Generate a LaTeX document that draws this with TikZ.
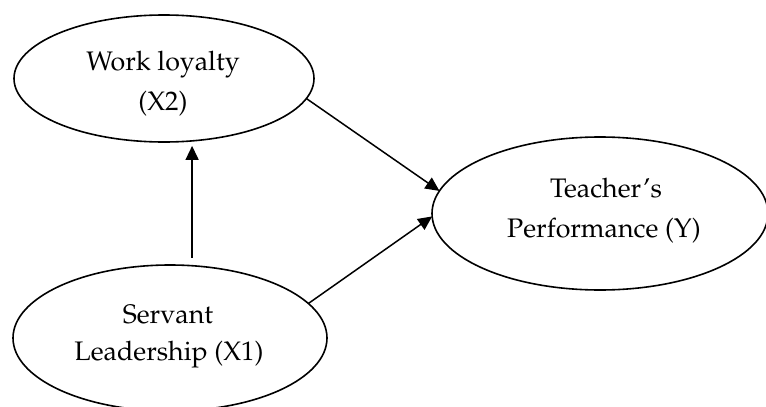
\documentclass[tikz,border=0pt]{standalone}
\usepackage[T1]{fontenc}
\usepackage{mathpazo}
\usetikzlibrary{shapes.geometric,arrows.meta}
\begin{document}
\begin{tikzpicture}[x=0.5pt,y=-0.5pt,
  oval/.style={ellipse,draw,line width=0.8pt,inner sep=0pt,outer sep=0pt},
  lbl/.style={anchor=base,inner sep=0pt,font=\fontsize{13.4}{16}\selectfont},
  conn/.style={line width=0.75pt,-{Triangle[length=7pt,width=6.5pt]}}]
\useasboundingbox (0,0) rectangle (766,407);
\node[oval,minimum width=150pt,minimum height=63.5pt] (wl) at (164,78.5) {};
\node[oval,minimum width=168pt,minimum height=76.5pt] (tp) at (600,213.5) {};
\node[oval,minimum width=157pt,minimum height=73pt] (sl) at (170,338) {};
\node[lbl] (wla) at (163,70.7) {Work loyalty};
\node[lbl] (wlb) at (163,110) {(X2)};
\node[lbl] (tpa) at (606,197) {Teacher's};
\node[lbl] (tpb) at (604,237) {Performance (Y)};
\node[lbl] (sla) at (168,323) {Servant};
\node[lbl] (slb) at (169,360) {Leadership (X1)};
\draw[conn,shorten <=4pt,shorten >=2.5pt] (sl.73) -- (sl.73 |- wl.-66);
\draw[conn] (wl.-8) -- (tp.172);
\draw[conn] (sl.14) -- (tp.181);
\end{tikzpicture}
\end{document}
